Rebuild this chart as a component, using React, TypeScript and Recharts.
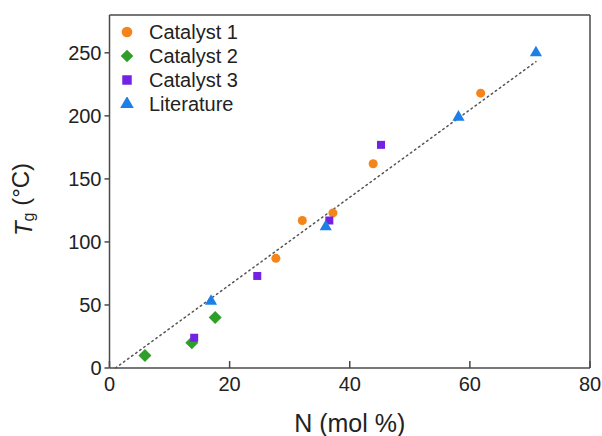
import React from 'react';
import {
  ScatterChart,
  Scatter,
  XAxis,
  YAxis,
  ZAxis,
  Legend,
  Label,
  ReferenceLine,
  Symbols,
} from 'recharts';

const FONT = '"Liberation Sans", Arial, sans-serif';
const AXIS = '#4a4a4a';

// values
const catalyst1 = [
  { x: 27.7, y: 87 },
  { x: 32.1, y: 117 },
  { x: 37.2, y: 123 },
  { x: 43.9, y: 162 },
  { x: 61.8, y: 218 },
];
const catalyst2 = [
  { x: 5.9, y: 10 },
  { x: 13.7, y: 20 },
  { x: 17.6, y: 40 },
];
const catalyst3 = [
  { x: 14.1, y: 24 },
  { x: 24.6, y: 73 },
  { x: 36.6, y: 117 },
  { x: 45.2, y: 177 },
];
const literature = [
  { x: 16.9, y: 53 },
  { x: 36.0, y: 112 },
  { x: 58.1, y: 199 },
  { x: 71.0, y: 250 },
];
const fitLine = [
  { x: 1, y: 0 },
  { x: 71, y: 243 },
];

const xTicks = [0, 20, 40, 60, 80];
const yTicks = [0, 50, 100, 150, 200, 250];

const series = [
  { name: 'Catalyst 1', data: catalyst1, color: '#f5841a', shape: 'circle' },
  { name: 'Catalyst 2', data: catalyst2, color: '#2f9f2a', shape: 'diamond' },
  { name: 'Catalyst 3', data: catalyst3, color: '#7322e3', shape: 'square' },
  { name: 'Literature', data: literature, color: '#1c80e6', shape: 'triangle' },
] as const;

// square turned 45 degrees (d3's diamond is too tall)
function Diamond({ cx, cy, fill, r = 6.5 }: any) {
  return <polygon points={`${cx},${cy - r} ${cx + r},${cy} ${cx},${cy + r} ${cx - r},${cy}`} fill={fill} />;
}

function XTick({ x, y, payload }: any) {
  return (
    <g>
      <line x1={x} x2={x} y1={y - 9} y2={y - 16} stroke={AXIS} strokeWidth={1.5} />
      <text x={x} y={y} dy="0.71em" textAnchor="middle" fill="#222" fontSize={20} fontFamily={FONT}>
        {payload.value}
      </text>
    </g>
  );
}

function LegendBox() {
  return (
    <div style={{ fontFamily: FONT, fontSize: 20, color: '#222', lineHeight: '24px' }}>
      {series.map((s) => (
        <div key={s.name} style={{ display: 'flex', alignItems: 'center', height: 24 }}>
          <svg width={14} height={14} style={{ marginRight: 15 }}>
            {s.shape === 'diamond' ? (
              <Diamond cx={7} cy={7} r={6.3} fill={s.color} />
            ) : (
              <Symbols cx={7} cy={7} type={s.shape} size={s.shape === 'triangle' ? 80 : 90} fill={s.color} />
            )}
          </svg>
          <span>{s.name}</span>
        </div>
      ))}
    </div>
  );
}

function YLabel({ viewBox }: any) {
  const cx = viewBox.x + 3;
  const cy = viewBox.y + viewBox.height / 2 + 8;
  return (
    <text
      x={cx}
      y={cy}
      transform={`rotate(-90, ${cx}, ${cy})`}
      textAnchor="middle"
      dominantBaseline="central"
      fill="#222"
      fontSize={24}
      fontFamily={FONT}
    >
      <tspan fontStyle="italic">T</tspan>
      <tspan fontSize={16} dy="0.35em">g</tspan>
      <tspan dy="-0.35em"> (°C)</tspan>
    </text>
  );
}

export default function App() {
  return (
    <div style={{ width: 602, height: 436 }}>
      {/* the chart needs the full window, labels run into the body margin */}
      <style>{'body { margin: 0; }'}</style>
      <ScatterChart width={602} height={436} margin={{ top: 15, right: 12, bottom: 38, left: 19.5 }}>
        <XAxis
          type="number"
          dataKey="x"
          domain={[0, 80]}
          ticks={xTicks}
          stroke={AXIS}
          strokeWidth={1.5}
          tickLine={false}
          tickSize={6}
          tickMargin={3}
          tick={<XTick />}
          height={30}
        >
          <Label value="N (mol %)" position="bottom" offset={16} fill="#222" fontSize={25} fontFamily={FONT} />
        </XAxis>
        <YAxis
          type="number"
          dataKey="y"
          domain={[0, 280]}
          ticks={yTicks}
          stroke={AXIS}
          strokeWidth={1.5}
          tickSize={5}
          tickMargin={3}
          tick={{ fill: '#222', fontSize: 20, fontFamily: FONT }}
          width={90}
        >
          <Label content={<YLabel />} />
        </YAxis>
        <ZAxis range={[95, 95]} />
        <ReferenceLine y={280} stroke={AXIS} strokeWidth={1.5} />
        <ReferenceLine x={80} stroke={AXIS} strokeWidth={1.5} />
        <Scatter
          data={fitLine}
          line={{ stroke: '#555', strokeWidth: 1.5, strokeDasharray: '1.5 3.5', strokeLinecap: 'round' }}
          shape={() => null}
          legendType="none"
          isAnimationActive={false}
        />
        {series.map((s) => (
          <Scatter
            key={s.name}
            name={s.name}
            data={s.data}
            fill={s.color}
            shape={s.shape === 'diamond' ? <Diamond /> : s.shape}
            isAnimationActive={false}
          />
        ))}
        <Legend
          layout="vertical"
          align="center"
          verticalAlign="middle"
          content={<LegendBox />}
          wrapperStyle={{ top: 19.7, left: 120, width: 'auto', height: 'auto' }}
        />
      </ScatterChart>
    </div>
  );
}
